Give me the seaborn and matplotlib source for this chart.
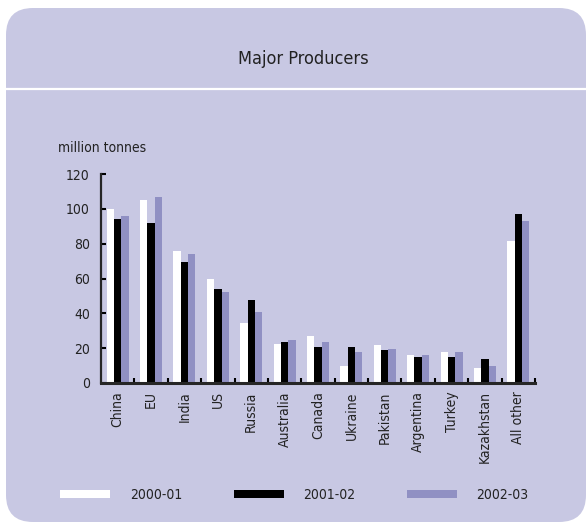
import matplotlib
matplotlib.use("Agg")
import matplotlib.pyplot as plt
import seaborn as sns
import pandas as pd
from matplotlib.patches import FancyBboxPatch, Patch
from matplotlib.lines import Line2D
from matplotlib.ticker import FixedLocator

# Wheat production by major producer (million tonnes)
countries = ["China", "EU", "India", "US", "Russia", "Australia", "Canada",
             "Ukraine", "Pakistan", "Argentina", "Turkey", "Kazakhstan", "All other"]
seasons = ["2000-01", "2001-02", "2002-03"]
prod_2000_01 = [100, 105, 76, 60, 34.5, 22.5, 27, 10, 22, 16, 18, 8.5, 81.5]
prod_2001_02 = [94, 92, 69.5, 54, 47.5, 23.5, 20.5, 20.5, 19, 15, 15, 14, 97]
prod_2002_03 = [96, 107, 74, 52, 41, 24.5, 23.5, 18, 19.5, 16, 18, 10, 93]
y_ticks = [0, 20, 40, 60, 80, 100, 120]

panel_color = "#C8C8E3"
bar_colors = ["#FFFFFF", "#000000", "#9090C3"]

df = pd.DataFrame({
    "country": countries * 3,
    "season": [s for s in seasons for _ in countries],
    "value": prod_2000_01 + prod_2001_02 + prod_2002_03,
})

sns.set_style("ticks")
plt.rcParams["font.family"] = ["DejaVu Sans"]
plt.rcParams["font.stretch"] = "condensed"
plt.rcParams["text.color"] = "#222222"

W, H = 587, 525
fig = plt.figure(figsize=(W / 100, H / 100), dpi=100, facecolor="white")

# rounded lavender panel behind everything
panel = FancyBboxPatch((6 / 100, 3 / 100), 580 / 100, 514 / 100,
                       boxstyle="round,pad=0,rounding_size=0.27",
                       transform=fig.dpi_scale_trans,
                       facecolor=panel_color, edgecolor="none", zorder=-10)
fig.patches.append(panel)
fig.add_artist(Line2D([6 / W, 1], [1 - 89 / H, 1 - 89 / H], color="white",
                      lw=1.6, transform=fig.transFigure, zorder=-5))

fig.text(303 / W, 1 - 59 / H, "Major Producers", ha="center", va="center",
         fontsize=13)
fig.text(58 / W, 1 - 148 / H, "million tonnes", ha="left", va="center",
         fontsize=10)

ax = fig.add_axes([101 / W, 1 - 383 / H, 434 / W, 209 / H])
ax.set_facecolor("none")
ax.set_zorder(5)
sns.barplot(data=df, x="country", y="value", hue="season",
            palette=bar_colors, saturation=1, width=0.66, linewidth=0,
            ax=ax, legend=False)

ax.set_xlim(-0.5, len(countries) - 0.5)
ax.set_ylim(0, 120)
ax.set_yticks(y_ticks)
ax.set_xlabel("")
ax.set_ylabel("")
for side in ["top", "right"]:
    ax.spines[side].set_visible(False)
ax.spines["left"].set_linewidth(1.6)
ax.spines["bottom"].set_linewidth(2.2)
ax.tick_params(axis="y", direction="in", length=3.5, width=1.5,
               labelsize=10, pad=8, colors="black", labelcolor="#222222")
ax.tick_params(axis="x", which="major", length=0, labelsize=10, pad=6,
               labelrotation=90, labelcolor="#222222")
ax.xaxis.set_minor_locator(FixedLocator([i + 0.5 for i in range(len(countries))]))
ax.tick_params(axis="x", which="minor", direction="in", length=3.5, width=1.5,
               colors="black")

handles = [Patch(facecolor=c, edgecolor="none") for c in bar_colors]
fig.legend(handles, seasons, loc="center", bbox_to_anchor=(294.5 / W, 1 - 495 / H),
           ncol=3, frameon=False, fontsize=10, handlelength=3.6,
           handleheight=0.55, handletextpad=1.44, columnspacing=3.67)

fig.savefig("out.png", dpi=100, facecolor="white")
